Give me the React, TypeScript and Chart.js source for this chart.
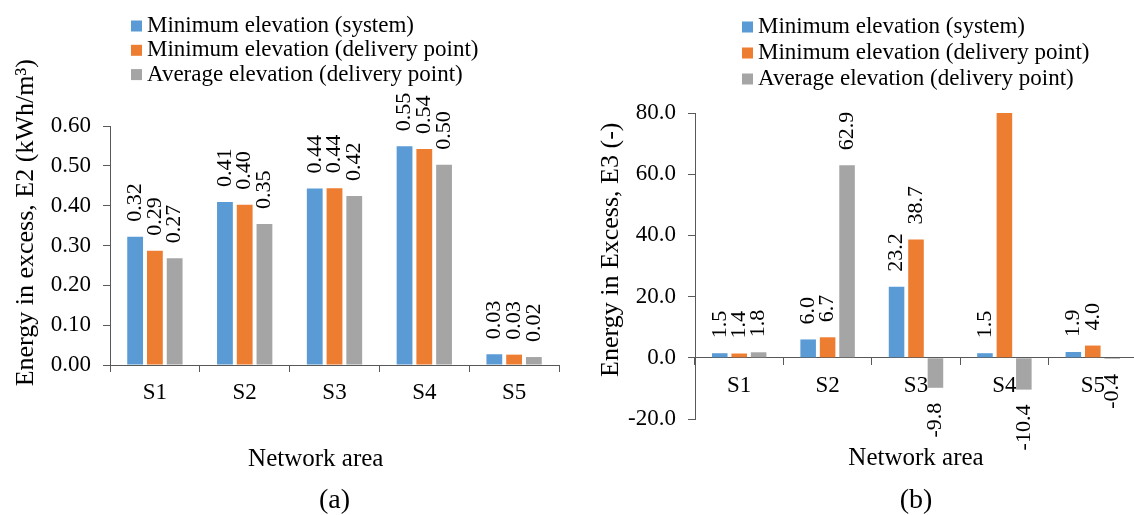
import { useEffect, useRef } from "react";
import { Chart, registerables } from "chart.js";

Chart.register(...registerables);

// ---------- data ----------
const categories = ["S1", "S2", "S3", "S4", "S5"];
const seriesLabels = [
  "Minimum elevation (system)",
  "Minimum elevation (delivery point)",
  "Average elevation (delivery point)",
];
const seriesColors = ["#5B9BD5", "#ED7D31", "#A5A5A5"];

// (a) Energy in excess, E2 (kWh/m3)
const e2MinSystem = [0.322, 0.409, 0.443, 0.549, 0.027];
const e2MinDelivery = [0.287, 0.402, 0.444, 0.542, 0.026];
const e2AvgDelivery = [0.268, 0.354, 0.424, 0.503, 0.02];

// (b) Energy in excess, E3 (-)
const e3MinSystem = [1.5, 6.0, 23.2, 1.5, 1.9];
const e3MinDelivery = [1.4, 6.7, 38.7, 80.0, 4.0];
const e3AvgDelivery = [1.8, 62.9, -9.8, -10.4, -0.4];

// axis ranges / tick steps
const e2Axis = { min: 0, max: 0.6, step: 0.1, decimals: 2 };
const e3Axis = { min: -20, max: 80, step: 20, decimals: 1 };

// ---------- styling ----------
const FONT = '"Liberation Serif", "Times New Roman", Times, serif';
const AXIS = "#595959";

Chart.defaults.font.family = FONT;
Chart.defaults.color = "#000";

const barLabelPlugin = {
  id: "barLabels",
  afterDatasetsDraw(chart: any, _args: any, opts: any) {
    const { ctx } = chart;
    const yScale = chart.scales.y;
    ctx.save();
    ctx.font = `${opts.size}px ${FONT}`;
    ctx.fillStyle = "#000";
    ctx.textBaseline = "middle";
    chart.data.datasets.forEach((ds: any, i: number) => {
      const meta = chart.getDatasetMeta(i);
      meta.data.forEach((el: any, j: number) => {
        const v = ds.data[j] as number;
        if (v >= yScale.max) return;
        const p = el.getProps(["x", "y", "base"], true);
        const txt = v.toFixed(opts.decimals);
        ctx.save();
        if (v >= 0) {
          ctx.translate(p.x, Math.min(p.y, p.base) - opts.gap);
          ctx.textAlign = "left";
        } else {
          ctx.translate(p.x, Math.max(p.y, p.base) + opts.gap);
          ctx.textAlign = "right";
        }
        ctx.rotate(-Math.PI / 2);
        ctx.fillText(txt, 0, 0);
        ctx.restore();
      });
    });
    ctx.restore();
  },
};

const boxLegendPlugin = {
  id: "boxLegend",
  afterDraw(chart: any, _args: any, opts: any) {
    const { ctx } = chart;
    ctx.save();
    ctx.font = `${opts.size}px ${FONT}`;
    ctx.textBaseline = "middle";
    ctx.textAlign = "left";
    chart.data.datasets.forEach((ds: any, i: number) => {
      const cy = opts.y + i * opts.dy;
      ctx.fillStyle = ds.backgroundColor;
      ctx.fillRect(opts.x, cy - opts.box / 2, opts.box, opts.box);
      ctx.fillStyle = "#000";
      ctx.fillText(ds.label, opts.x + opts.box + opts.gap, cy);
    });
    ctx.restore();
  },
};

function makeDatasets(a: number[], b: number[], c: number[]) {
  return [a, b, c].map((d, i) => ({
    label: seriesLabels[i],
    data: d,
    backgroundColor: seriesColors[i],
    borderWidth: 0,
  }));
}

function configA(): any {
  return {
    type: "bar",
    data: {
      labels: categories,
      datasets: makeDatasets(e2MinSystem, e2MinDelivery, e2AvgDelivery),
    },
    options: {
      responsive: false,
      animation: false,
      layout: { padding: { left: 0, right: 8, top: 126, bottom: 0 } },
      datasets: { bar: { categoryPercentage: 0.66, barPercentage: 0.8 } },
      plugins: {
        legend: { display: false },
        tooltip: { enabled: false },
        title: {
          display: true,
          text: "(a)",
          position: "bottom",
          fullSize: false,
          color: "#000",
          font: { family: FONT, size: 28, weight: "normal", lineHeight: 1 },
          padding: { top: 0, bottom: 0 },
        },
        barLabels: { size: 22, decimals: e2Axis.decimals, gap: 15 },
        boxLegend: { x: 131, y: 26, dy: 24.3, box: 11, gap: 5, size: 23 },
      },
      scales: {
        x: {
          grid: { drawOnChartArea: false, drawTicks: true, tickLength: 7, color: AXIS },
          border: { display: true, color: AXIS, width: 1 },
          ticks: { font: { family: FONT, size: 23 }, color: "#000", padding: 7 },
          title: {
            display: true,
            text: "Network area      ",
            color: "#000",
            font: { family: FONT, size: 25 },
            padding: { top: 0, bottom: 13 },
          },
          afterFit: (s: any) => {
            s.height = 122;
          },
        },
        y: {
          min: e2Axis.min,
          max: e2Axis.max,
          ticks: {
            stepSize: e2Axis.step,
            callback: (v: any) => Number(v).toFixed(e2Axis.decimals),
            font: { family: FONT, size: 23 },
            color: "#000",
            padding: 12,
          },
          grid: { drawOnChartArea: false, drawTicks: true, tickLength: 7, color: AXIS },
          border: { display: true, color: AXIS, width: 1 },
          title: {
            display: true,
            text: "       Energy in excess, E2 (kWh/m\u00B3)",
            color: "#000",
            font: { family: FONT, size: 26 },
            padding: { top: 10.4, bottom: 0 },
          },
          afterFit: (s: any) => {
            s.width = 110;
          },
        },
      },
    },
    plugins: [barLabelPlugin, boxLegendPlugin],
  };
}

function configB(): any {
  return {
    type: "bar",
    data: {
      labels: categories,
      datasets: makeDatasets(e3MinSystem, e3MinDelivery, e3AvgDelivery),
    },
    options: {
      responsive: false,
      animation: false,
      layout: { padding: { left: 0, right: 10, top: 113, bottom: 0 } },
      datasets: { bar: { categoryPercentage: 0.66, barPercentage: 0.8 } },
      plugins: {
        legend: { display: false },
        tooltip: { enabled: false },
        title: {
          display: true,
          text: "(b)",
          position: "bottom",
          fullSize: false,
          color: "#000",
          font: { family: FONT, size: 28, weight: "normal", lineHeight: 1 },
          padding: { top: 68, bottom: 0 },
        },
        barLabels: { size: 22, decimals: e3Axis.decimals, gap: 15 },
        boxLegend: { x: 175, y: 27, dy: 26, box: 11, gap: 5, size: 23 },
      },
      scales: {
        x: {
          position: { y: 0 },
          grid: { drawOnChartArea: false, drawTicks: true, tickLength: 7, color: AXIS },
          border: { display: true, color: AXIS, width: 1 },
          ticks: { font: { family: FONT, size: 23 }, color: "#000", padding: 7 },
          title: {
            display: true,
            text: "Network area",
            color: "#000",
            font: { family: FONT, size: 25 },
            padding: { top: 0, bottom: 0 },
          },
          afterFit: (s: any) => {
            s.height = 116;
          },
        },
        y: {
          min: e3Axis.min,
          max: e3Axis.max,
          ticks: {
            stepSize: e3Axis.step,
            callback: (v: any) => Number(v).toFixed(e3Axis.decimals),
            font: { family: FONT, size: 23 },
            color: "#000",
            padding: 12,
          },
          grid: { drawOnChartArea: false, drawTicks: true, tickLength: 7, color: AXIS },
          border: { display: true, color: AXIS, width: 1 },
          title: {
            display: true,
            text: "     Energy in Excess, E3 (-)",
            color: "#000",
            font: { family: FONT, size: 26 },
            padding: { top: 28.4, bottom: 0 },
          },
          afterFit: (s: any) => {
            s.width = 128;
          },
        },
      },
    },
    plugins: [barLabelPlugin, boxLegendPlugin],
  };
}

export default function App() {
  const refA = useRef<HTMLCanvasElement>(null);
  const refB = useRef<HTMLCanvasElement>(null);

  useEffect(() => {
    const a = new Chart(refA.current as HTMLCanvasElement, configA());
    const b = new Chart(refB.current as HTMLCanvasElement, configB());
    return () => {
      a.destroy();
      b.destroy();
    };
  }, []);

  return (
    <div
      style={{
        position: "absolute",
        left: 0,
        top: 0,
        width: 1134,
        height: 515,
        overflow: "hidden",
        background: "#fff",
      }}
    >
      <canvas
        ref={refA}
        width={567}
        height={515}
        style={{ position: "absolute", left: 0, top: 0 }}
      />
      <canvas
        ref={refB}
        width={580}
        height={515}
        style={{ position: "absolute", left: 567, top: 0 }}
      />
    </div>
  );
}
